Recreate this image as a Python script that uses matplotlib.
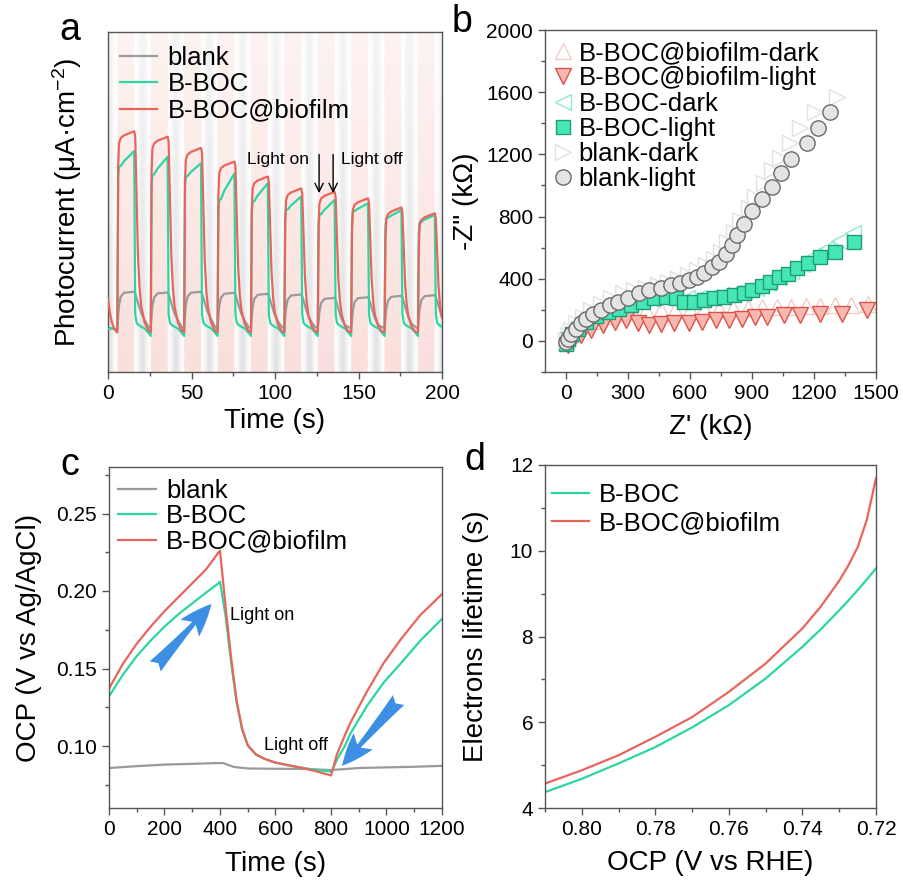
import numpy as np
import matplotlib
matplotlib.use("Agg")
import matplotlib.pyplot as plt
from matplotlib.ticker import MultipleLocator, FormatStrFormatter
from matplotlib.patches import FancyArrowPatch

plt.rcParams["font.family"] = ["Liberation Sans", "DejaVu Sans"]
plt.rcParams["mathtext.fontset"] = "custom"
plt.rcParams["mathtext.rm"] = "Liberation Sans"
plt.rcParams["mathtext.it"] = "Liberation Sans:italic"

GREEN = "#2bd6a2"
RED = "#e8655c"
GRAY = "#9a9a9a"
FRAME = "#555555"

# ---------------- (a) photocurrent, arbitrary units 0..100 ----------------
LIGHT_ON = [5.6, 25.6, 45.6, 65.6, 85.6, 105.6, 125.6, 145.6, 165.6, 185.6]
LIGHT_LEN = 10.1

t_a = [0, 1, 2, 3, 4, 5,
       5.6, 6.1, 6.6, 7.6, 9.6, 15.7, 16.3, 17.1, 17.9, 18.9, 19.9, 21.9, 24.2,
       25.6, 26.1, 26.6, 27.6, 29.6, 35.7, 36.3, 37.1, 37.9, 38.9, 39.9, 41.9, 44.2,
       45.6, 46.1, 46.6, 47.6, 49.6, 55.7, 56.3, 57.1, 57.9, 58.9, 59.9, 61.9, 64.2,
       65.6, 66.1, 66.6, 67.6, 69.6, 75.7, 76.3, 77.1, 77.9, 78.9, 79.9, 81.9, 84.2,
       85.6, 86.1, 86.6, 87.6, 89.6, 95.7, 96.3, 97.1, 97.9, 98.9, 99.9, 101.9, 104.2,
       105.6, 106.1, 106.6, 107.6, 109.6, 115.7, 116.3, 117.1, 117.9, 118.9, 119.9, 121.9, 124.2,
       125.6, 126.1, 126.6, 127.6, 129.6, 135.7, 136.3, 137.1, 137.9, 138.9, 139.9, 141.9, 144.2,
       145.6, 146.1, 146.6, 147.6, 149.6, 155.7, 156.3, 157.1, 157.9, 158.9, 159.9, 161.9, 164.2,
       165.6, 166.1, 166.6, 167.6, 169.6, 175.7, 176.3, 177.1, 177.9, 178.9, 179.9, 181.9, 184.2,
       185.6, 186.1, 186.6, 187.6, 189.6, 195.7, 196.3, 197.1, 197.9, 198.9, 199.9]

red_a = [21.5, 17.8, 15.3, 13.6, 12.5, 11.9,
         11.6, 60.8, 67.3, 68.8, 69.6, 70.8, 69.3, 51.7, 34.9, 24.8, 19.4, 14.6, 12.2,
         11.8, 59.2, 65.7, 67.2, 68.0, 69.2, 67.7, 50.6, 34.3, 24.4, 19.1, 14.5, 12.2,
         11.8, 55.9, 62.4, 63.9, 64.7, 65.9, 64.4, 48.3, 33.0, 23.6, 18.7, 14.3, 12.1,
         11.8, 51.9, 58.4, 59.9, 60.7, 61.9, 60.4, 45.6, 31.4, 22.7, 18.1, 14.1, 12.0,
         11.8, 47.5, 54.0, 55.5, 56.3, 57.5, 56.0, 42.6, 29.6, 21.7, 17.5, 13.8, 11.9,
         11.8, 44.0, 50.5, 52.0, 52.8, 54.0, 52.5, 40.2, 28.2, 20.9, 17.0, 13.6, 11.9,
         11.8, 43.0, 49.5, 51.0, 51.8, 53.0, 51.5, 39.6, 27.8, 20.7, 16.9, 13.5, 11.8,
         11.8, 41.1, 47.6, 49.1, 49.9, 51.1, 49.6, 38.3, 27.0, 20.2, 16.6, 13.4, 11.8,
         11.8, 38.4, 44.9, 46.4, 47.2, 48.4, 46.9, 36.4, 26.0, 19.6, 16.2, 13.2, 11.7,
         11.8, 36.7, 43.2, 44.7, 45.5, 46.7, 45.2, 35.3, 25.3, 19.2, 16.0]

green_a = [12.6, 12.8, 12.9, 12.7, 12.6, 12.4,
           12.4, 57.4, 60.4, 60.6, 62.0, 65.0, 17.0, 14.5, 14.0, 13.6, 13.3, 12.8, 11.5,
           10.6, 54.9, 57.9, 58.1, 59.8, 63.3, 17.0, 14.5, 14.0, 13.6, 13.3, 12.8, 11.5,
           10.6, 54.4, 57.4, 57.6, 58.8, 61.4, 17.0, 14.5, 14.0, 13.6, 13.3, 12.8, 11.5,
           10.6, 47.6, 50.6, 50.8, 53.3, 58.4, 17.0, 14.5, 14.0, 13.6, 13.3, 12.8, 11.5,
           10.6, 47.0, 50.0, 50.2, 51.9, 55.5, 17.0, 14.5, 14.0, 13.6, 13.3, 12.8, 11.5,
           10.6, 44.6, 47.6, 47.8, 49.0, 51.6, 17.0, 14.5, 14.0, 13.6, 13.3, 12.8, 11.5,
           10.6, 43.2, 46.2, 46.4, 47.7, 50.6, 17.0, 14.5, 14.0, 13.6, 13.3, 12.8, 11.5,
           10.6, 44.1, 47.1, 47.3, 48.0, 49.6, 17.0, 14.5, 14.0, 13.6, 13.3, 12.8, 11.5,
           10.6, 42.2, 45.2, 45.4, 46.0, 47.6, 17.0, 14.5, 14.0, 13.6, 13.3, 12.8, 11.5,
           10.6, 41.0, 44.0, 44.2, 44.8, 46.2, 17.0, 14.5, 14.0, 13.6, 13.3]

gray_a = [12.9, 12.8, 12.8, 12.7, 12.7, 12.6,
          12.6, 16.6, 19.6, 22.1, 23.3, 23.6, 23.1, 21.8, 20.4, 18.8, 17.4, 15.4, 13.2,
          12.8, 16.4, 19.4, 21.9, 23.1, 23.4, 22.9, 21.6, 20.2, 18.6, 17.2, 15.2, 13.2,
          12.8, 16.6, 19.6, 22.1, 23.3, 23.6, 23.1, 21.8, 20.4, 18.8, 17.4, 15.4, 13.2,
          12.8, 16.3, 19.3, 21.8, 23.0, 23.3, 22.8, 21.5, 20.1, 18.5, 17.1, 15.1, 13.2,
          12.8, 16.0, 19.0, 21.5, 22.7, 23.0, 22.5, 21.2, 19.8, 18.2, 16.8, 14.8, 13.2,
          12.8, 15.8, 18.8, 21.3, 22.5, 22.8, 22.3, 21.0, 19.6, 18.0, 16.6, 14.6, 13.2,
          12.8, 14.8, 17.8, 20.3, 21.5, 21.8, 21.3, 20.0, 18.6, 17.0, 15.6, 13.8, 13.2,
          12.8, 15.0, 18.0, 20.5, 21.7, 22.0, 21.5, 20.2, 18.8, 17.2, 15.8, 13.8, 13.2,
          12.8, 15.4, 18.4, 20.9, 22.1, 22.4, 21.9, 20.6, 19.2, 17.6, 16.2, 14.2, 13.2,
          12.8, 15.6, 18.6, 21.1, 22.3, 22.6, 22.1, 20.8, 19.4, 17.8, 16.4]

# ---------------- (b) Nyquist ----------------
bl_light_x = [3, 11, 27, 51, 75, 99, 132, 172, 212, 252, 300, 356, 404, 460, 509, 553, 594,
              637, 669, 709, 741, 773, 805, 829, 861, 903, 947, 998, 1041, 1089, 1168, 1219, 1278]
bl_light_y = [-6, 15, 47, 79, 116, 144, 176, 202, 230, 251, 277, 305, 326, 343, 358, 373, 391,
              412, 440, 476, 509, 558, 616, 680, 755, 837, 912, 991, 1077, 1172, 1270, 1371, 1474]
bl_dark_x = [0, 11, 27, 51, 83, 124, 172, 220, 276, 332, 388, 445, 493, 541, 589, 637, 677,
             717, 749, 781, 813, 845, 886, 917, 958, 998, 1038, 1086, 1134, 1206, 1311]
bl_dark_y = [4, 36, 69, 112, 155, 197, 240, 273, 305, 326, 343, 358, 380, 401, 423, 455, 487,
             530, 573, 637, 702, 777, 852, 927, 1013, 1099, 1174, 1270, 1367, 1474, 1571]
bb_light_x = [3, 11, 30, 59, 99, 148, 204, 260, 316, 372, 428, 485, 533, 573, 621, 669, 717,
              765, 813, 861, 902, 950, 990, 1030, 1075, 1118, 1170, 1231, 1304, 1396]
bb_light_y = [-17, 15, 47, 79, 122, 159, 187, 208, 230, 251, 273, 283, 273, 251, 251, 262, 273,
              283, 294, 309, 326, 352, 380, 412, 433, 470, 500, 541, 573, 637]
bb_dark_x = [0, 8, 24, 48, 88, 136, 192, 248, 304, 360, 416, 472, 528, 584, 640, 696, 752,
             808, 864, 920, 976, 1032, 1088, 1144, 1200, 1256, 1320, 1391]
bb_dark_y = [0, 20, 52, 88, 130, 168, 196, 220, 240, 258, 272, 280, 282, 278, 278, 284, 294,
             305, 320, 340, 370, 410, 450, 495, 545, 590, 640, 691]
bf_light_x = [11, 35, 75, 124, 180, 236, 292, 348, 404, 460, 525, 597, 661, 725, 789, 853,
              917, 974, 1054, 1134, 1230, 1335, 1455]
bf_light_y = [-28, 4, 36, 69, 101, 122, 133, 112, 101, 107, 112, 116, 122, 133, 133, 144,
              154, 154, 165, 165, 176, 176, 197]
bf_dark_x = [0, 20, 50, 90, 140, 200, 260, 320, 390, 460, 530, 600, 670, 740, 810, 880, 950,
             1020, 1090, 1160, 1230, 1300, 1380, 1460]
bf_dark_y = [20, 40, 70, 100, 130, 160, 180, 195, 200, 200, 200, 200, 205, 205, 210, 210, 215,
             215, 220, 222, 226, 228, 232, 236]

# ---------------- (c) OCP ----------------
t_c_red = [0, 50, 100, 150, 200, 250, 300, 350, 395, 400, 420, 440, 460, 480, 500, 530, 560,
           600, 650, 700, 750, 800, 805, 821, 850, 870, 930, 990, 1050, 1122, 1200]
ocp_red = [0.137, 0.153, 0.166, 0.177, 0.187, 0.196, 0.205, 0.214, 0.225, 0.226, 0.190, 0.157,
           0.129, 0.111, 0.1005, 0.0945, 0.0918, 0.0893, 0.0875, 0.0857, 0.0835, 0.081, 0.084,
           0.0945, 0.107, 0.115, 0.1353, 0.1536, 0.1685, 0.1845, 0.198]
t_c_green = [0, 50, 100, 150, 200, 250, 300, 350, 395, 400, 420, 440, 460, 480, 500, 530, 560,
             600, 650, 700, 750, 800, 805, 821, 850, 870, 930, 990, 1050, 1122, 1200]
ocp_green = [0.132, 0.146, 0.158, 0.168, 0.177, 0.185, 0.192, 0.199, 0.205, 0.206, 0.184, 0.154,
             0.128, 0.1105, 0.1003, 0.0944, 0.0917, 0.0892, 0.0874, 0.0858, 0.0845, 0.0836,
             0.0845, 0.091, 0.1, 0.108, 0.126, 0.141, 0.153, 0.168, 0.182]
t_c_gray = [0, 100, 200, 300, 390, 410, 450, 500, 600, 700, 800, 900, 1000, 1100, 1200]
ocp_gray = [0.0858, 0.087, 0.088, 0.0885, 0.089, 0.089, 0.0865, 0.0855, 0.0853, 0.0852,
            0.0845, 0.0858, 0.0862, 0.0866, 0.0872]

# ---------------- (d) electron lifetime ----------------
ocp_d = [0.81, 0.80, 0.79, 0.78, 0.77, 0.76, 0.75, 0.74, 0.735, 0.73, 0.7275, 0.725, 0.7225, 0.72]
tau_green = [4.37, 4.68, 5.04, 5.42, 5.88, 6.40, 7.02, 7.76, 8.17, 8.61, 8.84, 9.08, 9.33, 9.59]
tau_red = [4.57, 4.88, 5.23, 5.66, 6.12, 6.71, 7.37, 8.19, 8.70, 9.30, 9.66, 10.08, 10.72, 11.69]

W, H = 904, 883
fig = plt.figure(figsize=(W / 100, H / 100), dpi=100)


def box(l, t, r, b):
    return [l / W, 1 - b / H, (r - l) / W, (b - t) / H]


def style(ax):
    for s in ax.spines.values():
        s.set_color(FRAME)
        s.set_linewidth(1.0)
    ax.tick_params(which="both", direction="out", colors=FRAME, labelcolor="black",
                   labelsize=15, width=1.0, top=False, right=False)
    ax.tick_params(which="major", length=5)
    ax.tick_params(which="minor", length=3)


def legend(ax, x, y, **kw):
    opts = dict(frameon=False, fontsize=18.5, handlelength=1.45, handletextpad=0.4,
                labelspacing=0.1, borderaxespad=0.0, borderpad=0.0, loc="upper left",
                bbox_to_anchor=(x, y))
    opts.update(kw)
    return ax.legend(**opts)


# (a)
ax = fig.add_axes(box(108, 32, 442, 372))
style(ax)
tg = np.linspace(0, 200, 2001)
pink = np.array([250, 224, 220]) / 255
grey = np.array([226, 226, 226]) / 255
col = np.ones((tg.size, 3))
for on in LIGHT_ON:
    m = (tg >= on) & (tg <= on + LIGHT_LEN)
    col[m] = pink
    mid = on + LIGHT_LEN + (20 - LIGHT_LEN) / 2
    w = np.exp(-((tg - mid) / 2.6) ** 2)
    w[m] = 0
    col = col * (1 - w[:, None]) + grey * w[:, None]
w0 = np.exp(-((tg - 1.0) / 2.2) ** 2) * (tg < 5.6)
col = col * (1 - w0[:, None]) + grey * w0[:, None]
fade = np.linspace(1.0, 0.4, 60)[:, None, None]
img = 1 - (1 - col[None, :, :]) * fade
ax.imshow(img, extent=[0, 200, 0, 100], aspect="auto", origin="lower", zorder=0,
          interpolation="bilinear")
ax.plot(t_a, gray_a, color=GRAY, lw=1.6, label="blank", zorder=2)
ax.plot(t_a, green_a, color=GREEN, lw=1.6, label="B-BOC", zorder=3)
ax.plot(t_a, red_a, color=RED, lw=1.6, label="B-BOC@biofilm", zorder=4)
ax.set_xlim(0, 200)
ax.set_ylim(0, 100)
ax.xaxis.set_major_locator(MultipleLocator(50))
ax.xaxis.set_minor_locator(MultipleLocator(25))
ax.set_yticks([])
ax.set_xlabel("Time (s)", fontsize=20, labelpad=4)
ax.set_ylabel("Photocurrent (μA·cm$^{-2}$)", fontsize=20, labelpad=17)
legend(ax, 0.036, 0.96)
arr = dict(arrowstyle="->,head_length=0.6,head_width=0.3", lw=1.0, color="black")
ax.annotate("", xy=(126.4, 51.8), xytext=(126.4, 64.8), arrowprops=arr, zorder=6)
ax.annotate("", xy=(134.8, 51.8), xytext=(134.8, 64.8), arrowprops=arr, zorder=6)
ax.text(120.4, 62.4, "Light on", fontsize=12.5, ha="right", va="center", zorder=6)
ax.text(139.5, 62.4, "Light off", fontsize=12.5, ha="left", va="center", zorder=6)
fig.text(70 / W, 1 - 30 / H, "a", fontsize=27, ha="center", va="center")

# (b)
ax = fig.add_axes(box(545, 30, 876, 372))
style(ax)
ax.plot(bf_dark_x, bf_dark_y, "^", ms=12, mfc="none", mec="#f1cdc9", mew=1.0,
        ls="none", label="B-BOC@biofilm-dark")
ax.plot(bf_light_x, bf_light_y, "v", ms=12, mfc="#f8b8b0", mec="#d9534a", mew=1.0,
        ls="none", label="B-BOC@biofilm-light")
ax.plot(bb_dark_x, bb_dark_y, "<", ms=12, mfc="none", mec="#93e8d2", mew=1.0,
        ls="none", label="B-BOC-dark")
ax.plot(bb_light_x, bb_light_y, "s", ms=10, mfc="#46e6b6", mec="#1f9c78", mew=1.0,
        ls="none", label="B-BOC-light")
ax.plot(bl_dark_x, bl_dark_y, ">", ms=12, mfc="none", mec="#e2e2e2", mew=1.0,
        ls="none", label="blank-dark")
ax.plot(bl_light_x, bl_light_y, "o", ms=11, mfc="#e4e4e4", mec="#6a6a6a", mew=1.0,
        ls="none", label="blank-light")
ax.set_xlim(-100, 1500)
ax.set_ylim(-200, 2000)
ax.xaxis.set_major_locator(MultipleLocator(300))
ax.xaxis.set_minor_locator(MultipleLocator(150))
ax.yaxis.set_major_locator(MultipleLocator(400))
ax.yaxis.set_minor_locator(MultipleLocator(200))
ax.set_xlabel("Z' (kΩ)", fontsize=20, labelpad=8)
ax.set_ylabel('-Z" (kΩ)', fontsize=20, labelpad=5)
legend(ax, 0.02, 0.968, handlelength=0.9, handletextpad=0.15, labelspacing=0.05)
fig.text(462 / W, 1 - 22 / H, "b", fontsize=27, ha="center", va="center")

# (c)
ax = fig.add_axes(box(109, 467, 442, 808))
style(ax)
ax.plot(t_c_gray, ocp_gray, color=GRAY, lw=1.6, label="blank")
ax.plot(t_c_green, ocp_green, color=GREEN, lw=1.6, label="B-BOC")
ax.plot(t_c_red, ocp_red, color=RED, lw=1.6, label="B-BOC@biofilm")
ax.set_xlim(0, 1200)
ax.set_ylim(0.06, 0.28)
ax.xaxis.set_major_locator(MultipleLocator(200))
ax.xaxis.set_minor_locator(MultipleLocator(100))
ax.yaxis.set_major_locator(MultipleLocator(0.05))
ax.yaxis.set_minor_locator(MultipleLocator(0.025))
ax.yaxis.set_major_formatter(FormatStrFormatter("%.2f"))
ax.set_xlabel("Time (s)", fontsize=20, labelpad=9)
ax.set_ylabel("OCP (V vs Ag/AgCl)", fontsize=20, labelpad=10)
legend(ax, 0.028, 0.965, labelspacing=0.05)
blue = "#3d8fe6"
for (x0, y0), (x1, y1) in [((160, 0.150), (376, 0.193)), ((1050, 0.131), (833, 0.0858))]:
    ax.add_patch(FancyArrowPatch((x0, y0), (x1, y1),
                                 arrowstyle="fancy,head_length=1.3,head_width=1.0,tail_width=0.6",
                                 mutation_scale=18, color=blue, lw=0, zorder=5))
ax.text(437, 0.1845, "Light on", fontsize=13, ha="left", va="center")
ax.text(557, 0.1006, "Light off", fontsize=13, ha="left", va="center")
fig.text(70 / W, 1 - 465 / H, "c", fontsize=27, ha="center", va="center")

# (d)
ax = fig.add_axes(box(545, 465, 876, 808))
style(ax)
ax.plot(ocp_d, tau_green, color=GREEN, lw=1.6, label="B-BOC")
ax.plot(ocp_d, tau_red, color=RED, lw=1.6, label="B-BOC@biofilm")
ax.set_xlim(0.81, 0.72)
ax.set_ylim(4, 12)
ax.xaxis.set_major_locator(MultipleLocator(0.02))
ax.xaxis.set_minor_locator(MultipleLocator(0.01))
ax.xaxis.set_major_formatter(FormatStrFormatter("%.2f"))
ax.yaxis.set_major_locator(MultipleLocator(2))
ax.yaxis.set_minor_locator(MultipleLocator(1))
ax.set_xlabel("OCP (V vs RHE)", fontsize=20, labelpad=8)
ax.set_ylabel("Electrons lifetime (s)", fontsize=20, labelpad=15)
legend(ax, 0.02, 0.947, labelspacing=0.15)
fig.text(475 / W, 1 - 460 / H, "d", fontsize=27, ha="center", va="center")

fig.savefig("out.png", dpi=100)
